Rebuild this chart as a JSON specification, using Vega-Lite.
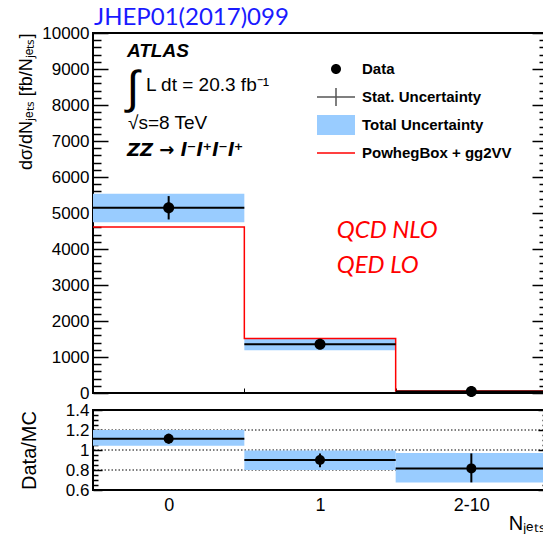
{
  "$schema": "https://vega.github.io/schema/vega-lite/v6.json",
  "background": "white",
  "padding": {"left": 16, "top": 5, "right": 0, "bottom": 0},
  "spacing": -7,
  "datasets": {
    "bins": [
      {"bin": "0", "series": "Data", "lo": 0, "hi": 1, "mid": 0.5, "data": 5145, "stat_lo": 4820, "stat_hi": 5470, "tot_lo": 4745, "tot_hi": 5535, "mc": 4610, "ratio": 1.113, "r_stat_lo": 1.063, "r_stat_hi": 1.163, "r_tot_lo": 1.043, "r_tot_hi": 1.2},
      {"bin": "1", "series": "Data", "lo": 1, "hi": 2, "mid": 1.5, "data": 1356, "stat_lo": 1250, "stat_hi": 1460, "tot_lo": 1190, "tot_hi": 1505, "mc": 1512, "ratio": 0.9, "r_stat_lo": 0.827, "r_stat_hi": 0.966, "r_tot_lo": 0.8, "r_tot_hi": 0.995},
      {"bin": "2-10", "series": "Data", "lo": 2, "hi": 3, "mid": 2.5, "data": 45, "stat_lo": 37, "stat_hi": 54, "tot_lo": 35, "tot_hi": 58, "mc": 55, "ratio": 0.816, "r_stat_lo": 0.676, "r_stat_hi": 0.966, "r_tot_lo": 0.676, "r_tot_hi": 0.97}
    ],
    "mc_steps": [
      {"edge": 0, "mc": 4610},
      {"edge": 1, "mc": 1512},
      {"edge": 2, "mc": 55},
      {"edge": 3, "mc": 55}
    ],
    "refs": [{"ref": 0.8}, {"ref": 1.0}, {"ref": 1.2}]
  },
  "resolve": {"scale": {"shape": "independent", "fill": "independent", "stroke": "independent"}, "legend": {"shape": "independent", "fill": "independent", "stroke": "independent"}},
  "config": {
    "view": {"stroke": "black", "strokeWidth": 2},
    "font": "Liberation Sans",
    "axis": {"labelFont": "Liberation Sans", "titleFont": "Liberation Sans", "labelColor": "black", "titleColor": "black", "tickColor": "black", "grid": false, "domain": false, "titleFontWeight": "normal", "labelFlush": false, "labelOverlap": false}
  },
  "vconcat": [
    {
      "width": 454,
      "height": 360,
      "title": {"text": "JHEP01(2017)099", "anchor": "start", "frame": "group", "color": "#1a1aff", "font": "Lato", "fontSize": 24, "fontWeight": "normal", "offset": -6, "dx": 1},
      "data": {"name": "bins"},
      "resolve": {"axis": {"y": "independent"}},
      "layer": [
        {
          "mark": {"type": "rect", "color": "#99CCFF"},
          "encoding": {
            "x": {"field": "lo", "type": "quantitative", "scale": {"domain": [0, 3], "nice": false, "zero": false},
                  "axis": {"values": [1, 2], "offset": -5, "tickSize": 5, "labels": false, "title": null, "minExtent": 0, "maxExtent": 0}},
            "x2": {"field": "hi"},
            "y": {"field": "tot_lo", "type": "quantitative", "scale": {"domain": [0, 10000], "nice": false, "zero": false},
                  "axis": {"orient": "left", "values": [0,1000,2000,3000,4000,5000,6000,7000,8000,9000,10000], "format": "d", "offset": -15, "tickSize": 15, "tickWidth": 1.5, "labelPadding": 4, "labelFontSize": 17,
                           "title": "dσ/dNⱼₑₜₛ [fb/Nⱼₑₜₛ]", "titleAnchor": "end", "titleFontSize": 18, "titlePadding": 6}},
            "y2": {"field": "tot_hi"}
          }
        },
        {
          "data": {"name": "mc_steps"},
          "mark": {"type": "line", "interpolate": "step-after", "color": "#ff0000", "strokeWidth": 1.5},
          "encoding": {
            "x": {"field": "edge", "type": "quantitative"},
            "y": {"field": "mc", "type": "quantitative",
                  "axis": {"orient": "left", "values": [200,400,600,800,1200,1400,1600,1800,2200,2400,2600,2800,3200,3400,3600,3800,4200,4400,4600,4800,5200,5400,5600,5800,6200,6400,6600,6800,7200,7400,7600,7800,8200,8400,8600,8800,9200,9400,9600,9800], "offset": -8, "tickSize": 8, "tickWidth": 1.5, "labels": false, "title": null}}
          }
        },
        {
          "mark": {"type": "rule", "color": "black", "strokeWidth": 2},
          "encoding": {
            "x": {"field": "lo", "type": "quantitative"},
            "x2": {"field": "hi"},
            "y": {"field": "data", "type": "quantitative",
                  "axis": {"orient": "right", "values": [0,1000,2000,3000,4000,5000,6000,7000,8000,9000,10000], "offset": -15, "tickSize": 15, "tickWidth": 1.5, "labels": false, "title": null}}
          }
        },
        {
          "mark": {"type": "rule", "color": "black", "strokeWidth": 2},
          "encoding": {
            "x": {"field": "mid", "type": "quantitative"},
            "y": {"field": "stat_lo", "type": "quantitative",
                  "axis": {"orient": "right", "values": [200,400,600,800,1200,1400,1600,1800,2200,2400,2600,2800,3200,3400,3600,3800,4200,4400,4600,4800,5200,5400,5600,5800,6200,6400,6600,6800,7200,7400,7600,7800,8200,8400,8600,8800,9200,9400,9600,9800], "offset": -8, "tickSize": 8, "tickWidth": 1.5, "labels": false, "title": null}},
            "y2": {"field": "stat_hi"}
          }
        },
        {
          "mark": {"type": "point", "size": 484, "opacity": 1, "strokeWidth": 1.5},
          "encoding": {
            "x": {"field": "mid", "type": "quantitative"},
            "y": {"field": "data", "type": "quantitative", "axis": null},
            "shape": {
              "field": "series", "type": "nominal",
              "scale": {"domain": ["Data", "Stat. Uncertainty", "Total Uncertainty", "PowhegBox + gg2VV"],
                        "range": ["M0,-1M0,1M-0.5,0A0.5,0.5 0 1,0 0.5,0A0.5,0.5 0 1,0 -0.5,0Z", "M0,-1M0,1M-1.9,0H1.9M0,-0.9V0.9", "M-1.9,-1H1.9V1H-1.9Z", "M0,-1M0,1M-1.9,0H1.9"]},
              "legend": {
                "orient": "none", "legendX": 232, "legendY": 25, "title": null, "symbolSize": 400, "padding": 0, "symbolStrokeWidth": 1.5,
                "labelFont": "Liberation Sans", "labelFontSize": 15, "labelFontWeight": "bold", "labelColor": "black", "labelOffset": 15, "rowPadding": 2
              }
            },
            "fill": {
              "field": "series", "type": "nominal",
              "scale": {"domain": ["Data", "Stat. Uncertainty", "Total Uncertainty", "PowhegBox + gg2VV"],
                        "range": ["black", "transparent", "#99CCFF", "transparent"]},
              "legend": {
                "orient": "none", "legendX": 232, "legendY": 25, "title": null, "symbolSize": 400, "padding": 0, "symbolStrokeWidth": 1.5,
                "labelFont": "Liberation Sans", "labelFontSize": 15, "labelFontWeight": "bold", "labelColor": "black", "labelOffset": 15, "rowPadding": 2
              }
            },
            "stroke": {
              "field": "series", "type": "nominal",
              "scale": {"domain": ["Data", "Stat. Uncertainty", "Total Uncertainty", "PowhegBox + gg2VV"],
                        "range": ["transparent", "#555555", "transparent", "#ff0000"]},
              "legend": {
                "orient": "none", "legendX": 232, "legendY": 25, "title": null, "symbolSize": 400, "padding": 0, "symbolStrokeWidth": 1.5,
                "labelFont": "Liberation Sans", "labelFontSize": 15, "labelFontWeight": "bold", "labelColor": "black", "labelOffset": 15, "rowPadding": 2
              }
            }
          }
        },
        {
          "data": {"values": [{}]},
          "mark": {"type": "text", "text": "ATLAS", "align": "left", "baseline": "middle", "font": "Liberation Sans", "fontSize": 19, "fontStyle": "italic", "fontWeight": "bold", "color": "black"},
          "encoding": {"x": {"datum": 0.224, "type": "quantitative"}, "y": {"datum": 9500, "type": "quantitative", "axis": null}}
        },
        {
          "data": {"values": [{}]},
          "mark": {"type": "text", "text": "∫", "align": "center", "baseline": "middle", "font": "Liberation Sans", "fontSize": 46, "color": "black"},
          "encoding": {"x": {"datum": 0.264, "type": "quantitative"}, "y": {"datum": 8444, "type": "quantitative", "axis": null}}
        },
        {
          "data": {"values": [{}]},
          "mark": {"type": "text", "text": "L dt = 20.3 fb⁻¹", "align": "left", "baseline": "middle", "font": "Liberation Sans", "fontSize": 19, "color": "black"},
          "encoding": {"x": {"datum": 0.35, "type": "quantitative"}, "y": {"datum": 8556, "type": "quantitative", "axis": null}}
        },
        {
          "data": {"values": [{}]},
          "mark": {"type": "text", "text": "√s=8 TeV", "align": "left", "baseline": "middle", "font": "Liberation Sans", "fontSize": 19, "color": "black"},
          "encoding": {"x": {"datum": 0.231, "type": "quantitative"}, "y": {"datum": 7500, "type": "quantitative", "axis": null}}
        },
        {
          "data": {"values": [{}]},
          "mark": {"type": "text", "text": "ZZ → l⁻l⁺l⁻l⁺", "align": "left", "baseline": "middle", "font": "DejaVu Sans", "fontSize": 18, "fontStyle": "italic", "fontWeight": "bold", "color": "black"},
          "encoding": {"x": {"datum": 0.224, "type": "quantitative"}, "y": {"datum": 6722, "type": "quantitative", "axis": null}}
        },
        {
          "data": {"values": [{}]},
          "mark": {"type": "text", "text": "QCD NLO", "align": "left", "baseline": "middle", "font": "Lato", "fontSize": 24, "fontStyle": "italic", "color": "#ff0000"},
          "encoding": {"x": {"datum": 1.611, "type": "quantitative"}, "y": {"datum": 4500, "type": "quantitative", "axis": null}}
        },
        {
          "data": {"values": [{}]},
          "mark": {"type": "text", "text": "QED LO", "align": "left", "baseline": "middle", "font": "Lato", "fontSize": 24, "fontStyle": "italic", "color": "#ff0000"},
          "encoding": {"x": {"datum": 1.611, "type": "quantitative"}, "y": {"datum": 3528, "type": "quantitative", "axis": null}}
        }
      ]
    },
    {
      "width": 454,
      "height": 80,
      "data": {"name": "bins"},
      "resolve": {"axis": {"y": "independent"}},
      "layer": [
        {
          "data": {"name": "refs"},
          "mark": {"type": "rule", "color": "black", "strokeWidth": 1, "strokeDash": [1.5, 2]},
          "encoding": {
            "y": {"field": "ref", "type": "quantitative", "scale": {"domain": [0.6, 1.4], "nice": false, "zero": false}, "axis": null}
          }
        },
        {
          "mark": {"type": "rect", "color": "#99CCFF"},
          "encoding": {
            "x": {"field": "lo", "type": "quantitative", "scale": {"domain": [0, 3], "nice": false, "zero": false},
                  "axis": {"values": [0.5, 1.5, 2.5], "labelExpr": "datum.value < 1 ? '0' : datum.value < 2 ? '1' : '2-10'", "ticks": false, "labelPadding": 6, "labelFontSize": 18,
                           "title": "Nⱼₑₜₛ", "titleX": 451, "titleAlign": "right", "titleFontSize": 20, "titlePadding": -1}},
            "x2": {"field": "hi"},
            "y": {"field": "r_tot_lo", "type": "quantitative", "scale": {"domain": [0.6, 1.4], "nice": false, "zero": false},
                  "axis": {"orient": "left", "values": [0.6, 0.8, 1, 1.2, 1.4], "format": "~g", "offset": -9, "tickSize": 9, "tickWidth": 1.5, "labelPadding": 4, "labelFontSize": 17,
                           "title": "Data/MC", "titleFontSize": 20, "titlePadding": 26}},
            "y2": {"field": "r_tot_hi"}
          }
        },
        {
          "mark": {"type": "rule", "color": "black", "strokeWidth": 2},
          "encoding": {
            "x": {"field": "lo", "type": "quantitative"},
            "x2": {"field": "hi"},
            "y": {"field": "ratio", "type": "quantitative",
                  "axis": {"orient": "left", "values": [0.65,0.7,0.75,0.85,0.9,0.95,1.05,1.1,1.15,1.25,1.3,1.35], "offset": -5, "tickSize": 5, "tickWidth": 1.5, "labels": false, "title": null}}
          }
        },
        {
          "mark": {"type": "rule", "color": "black", "strokeWidth": 2},
          "encoding": {
            "x": {"field": "mid", "type": "quantitative"},
            "y": {"field": "r_stat_lo", "type": "quantitative",
                  "axis": {"orient": "right", "values": [0.6, 0.8, 1, 1.2, 1.4], "offset": -9, "tickSize": 9, "tickWidth": 1.5, "labels": false, "title": null}},
            "y2": {"field": "r_stat_hi"}
          }
        },
        {
          "mark": {"type": "point", "filled": true, "color": "black", "size": 100, "opacity": 1, "shape": "circle"},
          "encoding": {
            "x": {"field": "mid", "type": "quantitative"},
            "y": {"field": "ratio", "type": "quantitative",
                  "axis": {"orient": "right", "values": [0.65,0.7,0.75,0.85,0.9,0.95,1.05,1.1,1.15,1.25,1.3,1.35], "offset": -5, "tickSize": 5, "tickWidth": 1.5, "labels": false, "title": null}}
          }
        }
      ]
    }
  ]
}
